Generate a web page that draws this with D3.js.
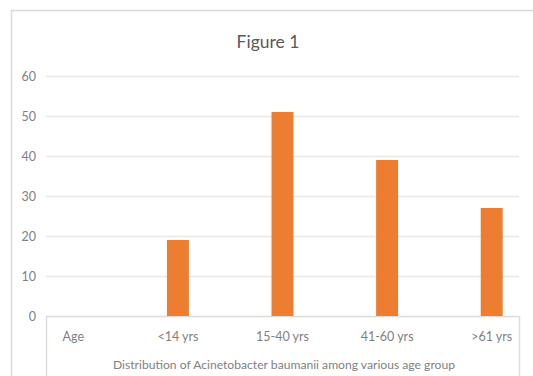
<!DOCTYPE html>
<html><head><meta charset="utf-8">
<script src="https://cdn.jsdelivr.net/npm/d3@7"></script>
<style>body{margin:0;background:#fff}svg{display:block}text{font-family:Lato,"Open Sans",sans-serif}</style>
</head><body>
<svg id="c" width="533" height="376"></svg>
<script>
const categories = ["Age", "<14 yrs", "15-40 yrs", "41-60 yrs", ">61 yrs"];
const values = [0, 19, 51, 39, 27];
const yTicks = [0, 10, 20, 30, 40, 50, 60];
const title = "Figure 1";
const xTitle = "Distribution of Acinetobacter baumanii among various age group";

const svg = d3.select("#c");
// outer chart frame
svg.append("rect").attr("x", 11.5).attr("y", 10.5).attr("width", 540).attr("height", 380)
  .attr("fill", "#fff").attr("stroke", "#d9d9d9").attr("stroke-width", 1.5);

const y = d3.scaleLinear().domain([0, 60]).range([316, 76]);
const x = d3.scaleBand().domain(categories).range([21, 544]).paddingInner(0.79).paddingOuter(0.395);
const gridX0 = 46, gridX1 = 519;

// gridlines
svg.append("g").selectAll("line").data(yTicks).join("line")
  .attr("x1", gridX0).attr("x2", gridX1)
  .attr("y1", d => Math.round(y(d)) + 0.5).attr("y2", d => Math.round(y(d)) + 0.5)
  .attr("stroke", d => d === 0 ? "#dcdcdc" : "#e8e8e8").attr("stroke-width", 1.5);
// category axis box edges
svg.append("g").selectAll("line").data([gridX0, gridX1]).join("line")
  .attr("x1", d => d + 0.5).attr("x2", d => d + 0.5).attr("y1", y(0)).attr("y2", 376)
  .attr("stroke", "#dcdcdc").attr("stroke-width", 1.5);

// y axis labels
const yAxis = d3.axisLeft(y).tickValues(yTicks).tickSize(0).tickPadding(0);
const ya = svg.append("g").attr("transform", "translate(36,0)").call(yAxis);
ya.select(".domain").remove();
ya.selectAll("text").attr("fill", "#7f7f7f").style("font-size", "12.5px").style("font-family", "Lato,'Open Sans',sans-serif");

// bars
svg.append("g").selectAll("rect").data(values).join("rect")
  .attr("x", (d, i) => x(categories[i]))
  .attr("width", x.bandwidth())
  .attr("y", d => y(d))
  .attr("height", d => y(0) - y(d))
  .attr("fill", "#ED7D31");

// x labels
const xAxis = d3.axisBottom(x).tickSize(0).tickPadding(0);
const xa = svg.append("g").attr("transform", "translate(0,332)").call(xAxis);
xa.select(".domain").remove();
xa.selectAll("text").attr("fill", "#7f7f7f").style("font-size", "12.5px").style("font-family", "Lato,'Open Sans',sans-serif");

// title
svg.append("text").attr("x", 268).attr("y", 48).attr("text-anchor", "middle")
  .attr("fill", "#595959").style("font-size", "17.5px").text(title);
// x axis title
svg.append("text").attr("x", 284).attr("y", 369).attr("text-anchor", "middle")
  .attr("fill", "#7f7f7f").style("font-size", "11.5px")
  .attr("textLength", 342).attr("lengthAdjust", "spacingAndGlyphs").text(xTitle);
</script>
</body></html>
